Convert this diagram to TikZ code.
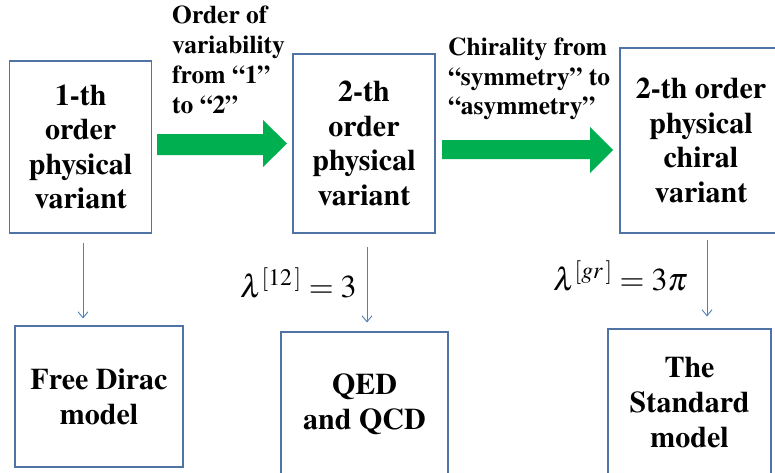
\documentclass[tikz,border=0pt]{standalone}
\usepackage{mathptmx}
\usepackage{fontspec}
\newfontfamily\tnr{texgyretermes}[Extension=.otf, UprightFont=*-regular, BoldFont=*-bold]
\usetikzlibrary{arrows.meta,calc}
\definecolor{boxblue}{RGB}{80,115,165}
\definecolor{lineblue}{RGB}{79,129,189}
\definecolor{arrgreen}{RGB}{0,176,80}
\tikzset{
  varbox/.style={draw=boxblue, line width=1.1pt, align=center, inner sep=0pt,
    font=\tnr\fontsize{30}{34.5}\selectfont\bfseries},
  modelbox/.style={draw=boxblue, line width=1.1pt, align=center, inner sep=0pt,
    font=\tnr\fontsize{30}{35}\selectfont\bfseries},
  lbl/.style={align=left, inner sep=0pt, anchor=north west,
    font=\tnr\fontsize{25.5}{29.8}\selectfont\bfseries},
  mathlbl/.style={inner sep=0pt, anchor=base west, font=\fontsize{32}{38}\selectfont},
  down/.style={draw=lineblue, line width=0.9pt, -{Straight Barb[length=6pt,width=10pt]}},
  bigarrow/.style={fill=arrgreen}
}
\begin{document}
\begin{tikzpicture}[x=1pt,y=-1pt]
\useasboundingbox (0,0) rectangle (775,472);
\clip (0,0) rectangle (775,472);
\fill[white] (0,0) rectangle (775,472);

% upper boxes
\node[varbox, minimum width=142pt, minimum height=172pt] (b1) at (80.6,147) {1-th\\order\\physical\\variant};
\node[varbox, minimum width=142pt, minimum height=179pt] (b2) at (364,143.5) {2-th\\order\\physical\\variant};
\node[varbox, minimum width=162pt, minimum height=185pt] (b3) at (701,140.5) {2-th order\\physical\\chiral\\variant};

% lower boxes
\node[modelbox, minimum width=168pt, minimum height=141pt] (b4) at (99,396.5) {Free Dirac\\model};
\node[modelbox, minimum width=167pt, minimum height=144pt] (b5) at (364.5,404) {QED\\and QCD};
\node[modelbox, minimum width=163pt, minimum height=147pt] (b6) at (689.5,402.5) {The\\Standard\\model};

% green block arrows
\fill[bigarrow] (157,134) -- (263,134) -- (263,120) -- (287,143.5) -- (263,167) -- (263,155) -- (157,155) -- cycle;
\fill[bigarrow] (442,140) -- (590,140) -- (590,127) -- (613,150) -- (590,173) -- (590,159) -- (442,159) -- cycle;

% arrow labels
\node[lbl] (l1) at (172,6) {Order of\\variability\\from “1”\\to “2”};
\node[lbl] (l2) at (448,37.5) {Chirality from\\“symmetry” to\\“asymmetry”};

% downward connectors
\coordinate (s1) at (83,243);
\coordinate (s2) at (367,247);
\coordinate (s3) at (707,240);
\draw[down, shorten >=7pt] (s1) -- (s1 |- b4.north);
\draw[down, shorten >=9pt] (s2) -- (s2 |- b5.north);
\draw[down, shorten >=12pt] (s3) -- (s3 |- b6.north);

% formulas
\node[mathlbl] (m1) at (240,297) {$\lambda^{[12\,]}=3$};
\node[mathlbl] (m2) at (553,290) {$\lambda^{[gr\,]}=3\pi$};
\end{tikzpicture}
\end{document}
